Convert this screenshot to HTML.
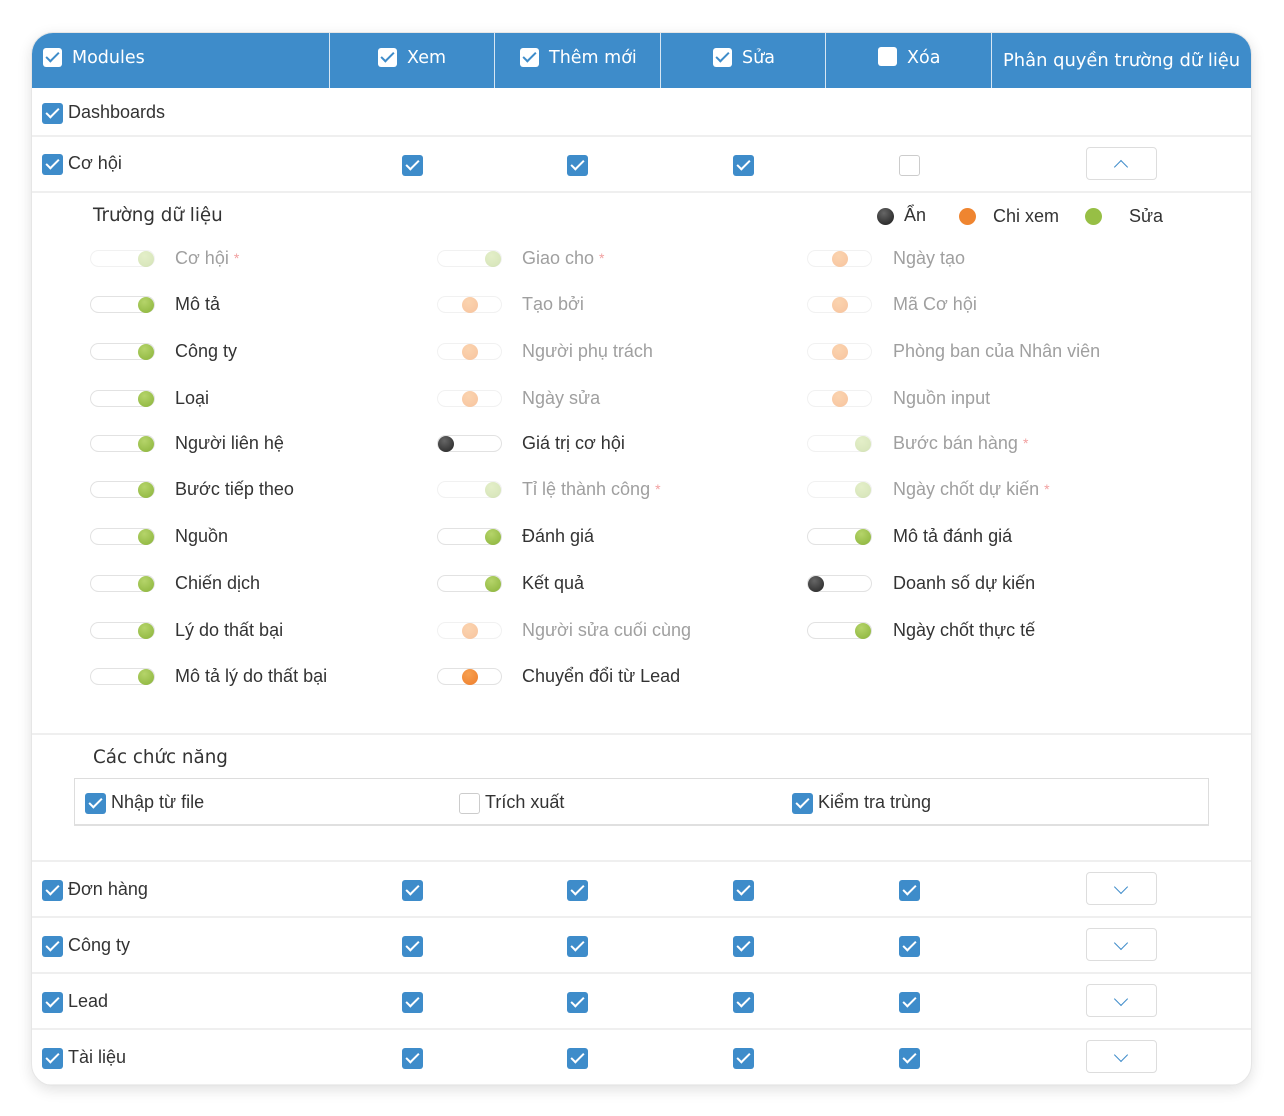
<!DOCTYPE html>
<html><head><meta charset="utf-8"><style>
*{box-sizing:border-box;margin:0;padding:0}
body{width:1284px;height:1116px;background:#fff;position:relative;overflow:hidden;font-family:"Liberation Sans",sans-serif;color:#333}
.card{position:absolute;left:31px;top:32px;width:1221px;height:1054px;border-radius:22px;background:#fff;box-shadow:0 4px 14px rgba(0,0,0,0.12);overflow:hidden;border:1px solid #e6e6e6}
.hdr{position:absolute;left:0;top:0;width:1220px;height:55px;background:#3e8cca}
.vd{position:absolute;top:0;width:1px;height:55px;background:#d6e6f3}
.ht{position:absolute;top:0;height:55px;line-height:50px;color:#fff;font-family:"DejaVu Sans",sans-serif;font-size:17.5px;white-space:nowrap}
.a{position:absolute}
.hcb{position:absolute;width:19px;height:19px;background:#fff;border-radius:3px}
.hcb.c::after{content:"";position:absolute;left:6px;top:1px;width:5px;height:11px;border:solid #3e8cca;border-width:0 2.5px 2.5px 0;transform:rotate(45deg)}
.cb{position:absolute;width:21px;height:21px;background:#3e8cca;border-radius:3px}
.cb::after{content:"";position:absolute;left:7px;top:2px;width:5px;height:11px;border:solid #fff;border-width:0 2px 2px 0;transform:rotate(45deg)}
.cb.u{background:#fff;border:1px solid #ccc}
.cb.u::after{display:none}
.line{position:absolute;left:0;width:1220px;height:2px;background:#efefef}
.t{position:absolute;font-size:18px;line-height:22px;white-space:nowrap}
.btn{position:absolute;width:71px;height:33px;border:1px solid #ddd;border-radius:4px;background:#fff}
.btn::after{content:"";position:absolute;left:29px;width:9px;height:9px;border:solid #3e8cca;border-width:0 1.5px 1.5px 0}
.btn.d::after{top:9px;transform:rotate(45deg)}
.btn.up::after{top:14px;transform:rotate(-135deg)}
.tg{position:absolute;width:65px;height:17px;border:1px solid #e2e2e2;border-radius:9px;background:#fff}
.tg i{position:absolute;top:-0.5px;width:16px;height:16px;border-radius:50%}
.g i{right:0;background:radial-gradient(circle at 40% 30%,#b5d46a,#8ab33a)}
.o i{left:24px;background:radial-gradient(circle at 40% 30%,#f7a050,#ee7d2b)}
.k i{left:0;background:radial-gradient(circle at 40% 30%,#666,#222)}
.f{opacity:.45}
.f.g i{opacity:.8}
.l{position:absolute;font-size:18px;line-height:22px;white-space:nowrap;color:#333}
.l.f{color:#888;opacity:.8}
.l.f s{text-decoration:none;color:#e88;font-size:14px;vertical-align:top}
.sec{position:absolute;font-family:"DejaVu Sans",sans-serif;font-size:18.3px;color:#333}
.dot{position:absolute;width:17px;height:17px;border-radius:50%}
</style></head><body>
<div class="card">
<div class="hdr"></div>
<div class="vd" style="left:297px"></div><div class="vd" style="left:462px"></div><div class="vd" style="left:628px"></div><div class="vd" style="left:793px"></div><div class="vd" style="left:959px"></div>
<div class="hcb c" style="left:11px;top:15px"></div><div class="ht" style="left:40px">Modules</div>
<div class="hcb c" style="left:346px;top:15px"></div><div class="ht" style="left:375px">Xem</div>
<div class="hcb c" style="left:488px;top:15px"></div><div class="ht" style="left:517px">Thêm mới</div>
<div class="hcb c" style="left:681px;top:15px"></div><div class="ht" style="left:710px">Sửa</div>
<div class="hcb" style="left:846px;top:14px"></div><div class="ht" style="left:875px">Xóa</div>
<div class="ht" style="left:971px;top:3px;line-height:50px;font-size:17.9px">Phân quyền trường dữ liệu</div>

<div class="cb" style="left:10px;top:70px"></div><div class="t" style="left:36px;top:68px">Dashboards</div>
<div class="line" style="top:102px"></div>
<div class="cb" style="left:10px;top:121px"></div><div class="t" style="left:36px;top:119px">Cơ hội</div>
<div class="cb" style="left:370px;top:122px"></div><div class="cb" style="left:535px;top:122px"></div><div class="cb" style="left:701px;top:122px"></div><div class="cb u" style="left:867px;top:122px"></div>
<div class="btn up" style="left:1054px;top:114px"></div>
<div class="line" style="top:158px"></div>

<div class="sec" style="left:61px;top:172px">Trường dữ liệu</div>
<div class="dot" style="left:845px;top:175px;background:radial-gradient(circle at 40% 30%,#666,#1a1a1a)"></div><div class="t" style="left:872px;top:171px">Ẩn</div>
<div class="dot" style="left:927px;top:175px;background:#ef8530"></div><div class="t" style="left:961px;top:172px">Chi xem</div>
<div class="dot" style="left:1053px;top:175px;background:#97bf45"></div><div class="t" style="left:1097px;top:172px">Sửa</div>

<div class="tg g f" style="left:58px;top:217px"><i></i></div><div class="l f" style="left:143px;top:214px">Cơ hội <s>*</s></div>
<div class="tg g" style="left:58px;top:263px"><i></i></div><div class="l" style="left:143px;top:260px">Mô tả</div>
<div class="tg g" style="left:58px;top:310px"><i></i></div><div class="l" style="left:143px;top:307px">Công ty</div>
<div class="tg g" style="left:58px;top:357px"><i></i></div><div class="l" style="left:143px;top:354px">Loại</div>
<div class="tg g" style="left:58px;top:402px"><i></i></div><div class="l" style="left:143px;top:399px">Người liên hệ</div>
<div class="tg g" style="left:58px;top:448px"><i></i></div><div class="l" style="left:143px;top:445px">Bước tiếp theo</div>
<div class="tg g" style="left:58px;top:495px"><i></i></div><div class="l" style="left:143px;top:492px">Nguồn</div>
<div class="tg g" style="left:58px;top:542px"><i></i></div><div class="l" style="left:143px;top:539px">Chiến dịch</div>
<div class="tg g" style="left:58px;top:589px"><i></i></div><div class="l" style="left:143px;top:586px">Lý do thất bại</div>
<div class="tg g" style="left:58px;top:635px"><i></i></div><div class="l" style="left:143px;top:632px">Mô tả lý do thất bại</div>

<div class="tg g f" style="left:405px;top:217px"><i></i></div><div class="l f" style="left:490px;top:214px">Giao cho <s>*</s></div>
<div class="tg o f" style="left:405px;top:263px"><i></i></div><div class="l f" style="left:490px;top:260px">Tạo bởi</div>
<div class="tg o f" style="left:405px;top:310px"><i></i></div><div class="l f" style="left:490px;top:307px">Người phụ trách</div>
<div class="tg o f" style="left:405px;top:357px"><i></i></div><div class="l f" style="left:490px;top:354px">Ngày sửa</div>
<div class="tg k" style="left:405px;top:402px"><i></i></div><div class="l" style="left:490px;top:399px">Giá trị cơ hội</div>
<div class="tg g f" style="left:405px;top:448px"><i></i></div><div class="l f" style="left:490px;top:445px">Tỉ lệ thành công <s>*</s></div>
<div class="tg g" style="left:405px;top:495px"><i></i></div><div class="l" style="left:490px;top:492px">Đánh giá</div>
<div class="tg g" style="left:405px;top:542px"><i></i></div><div class="l" style="left:490px;top:539px">Kết quả</div>
<div class="tg o f" style="left:405px;top:589px"><i></i></div><div class="l f" style="left:490px;top:586px">Người sửa cuối cùng</div>
<div class="tg o" style="left:405px;top:635px"><i></i></div><div class="l" style="left:490px;top:632px">Chuyển đổi từ Lead</div>

<div class="tg o f" style="left:775px;top:217px"><i></i></div><div class="l f" style="left:861px;top:214px">Ngày tạo</div>
<div class="tg o f" style="left:775px;top:263px"><i></i></div><div class="l f" style="left:861px;top:260px">Mã Cơ hội</div>
<div class="tg o f" style="left:775px;top:310px"><i></i></div><div class="l f" style="left:861px;top:307px">Phòng ban của Nhân viên</div>
<div class="tg o f" style="left:775px;top:357px"><i></i></div><div class="l f" style="left:861px;top:354px">Nguồn input</div>
<div class="tg g f" style="left:775px;top:402px"><i></i></div><div class="l f" style="left:861px;top:399px">Bước bán hàng <s>*</s></div>
<div class="tg g f" style="left:775px;top:448px"><i></i></div><div class="l f" style="left:861px;top:445px">Ngày chốt dự kiến <s>*</s></div>
<div class="tg g" style="left:775px;top:495px"><i></i></div><div class="l" style="left:861px;top:492px">Mô tả đánh giá</div>
<div class="tg k" style="left:775px;top:542px"><i></i></div><div class="l" style="left:861px;top:539px">Doanh số dự kiến</div>
<div class="tg g" style="left:775px;top:589px"><i></i></div><div class="l" style="left:861px;top:586px">Ngày chốt thực tế</div>

<div class="line" style="top:700px"></div>
<div class="sec" style="left:61px;top:714px">Các chức năng</div>
<div class="a" style="left:42px;top:745px;width:1135px;height:48px;border:1px solid #ddd;border-bottom:2px solid #e0e0e0"></div>
<div class="cb" style="left:53px;top:760px"></div><div class="t" style="left:79px;top:758px">Nhập từ file</div>
<div class="cb u" style="left:427px;top:760px"></div><div class="t" style="left:453px;top:758px">Trích xuất</div>
<div class="cb" style="left:760px;top:760px"></div><div class="t" style="left:786px;top:758px">Kiểm tra trùng</div>

<div class="line" style="top:827px"></div>
<div class="cb" style="left:10px;top:847px"></div><div class="t" style="left:36px;top:845px">Đơn hàng</div>
<div class="cb" style="left:370px;top:847px"></div><div class="cb" style="left:535px;top:847px"></div><div class="cb" style="left:701px;top:847px"></div><div class="cb" style="left:867px;top:847px"></div>
<div class="btn d" style="left:1054px;top:839px"></div>
<div class="line" style="top:883px"></div>
<div class="cb" style="left:10px;top:903px"></div><div class="t" style="left:36px;top:901px">Công ty</div>
<div class="cb" style="left:370px;top:903px"></div><div class="cb" style="left:535px;top:903px"></div><div class="cb" style="left:701px;top:903px"></div><div class="cb" style="left:867px;top:903px"></div>
<div class="btn d" style="left:1054px;top:895px"></div>
<div class="line" style="top:939px"></div>
<div class="cb" style="left:10px;top:959px"></div><div class="t" style="left:36px;top:957px">Lead</div>
<div class="cb" style="left:370px;top:959px"></div><div class="cb" style="left:535px;top:959px"></div><div class="cb" style="left:701px;top:959px"></div><div class="cb" style="left:867px;top:959px"></div>
<div class="btn d" style="left:1054px;top:951px"></div>
<div class="line" style="top:995px"></div>
<div class="cb" style="left:10px;top:1015px"></div><div class="t" style="left:36px;top:1013px">Tài liệu</div>
<div class="cb" style="left:370px;top:1015px"></div><div class="cb" style="left:535px;top:1015px"></div><div class="cb" style="left:701px;top:1015px"></div><div class="cb" style="left:867px;top:1015px"></div>
<div class="btn d" style="left:1054px;top:1007px"></div>
<div class="line" style="top:1051px"></div>
</div>
</body></html>
